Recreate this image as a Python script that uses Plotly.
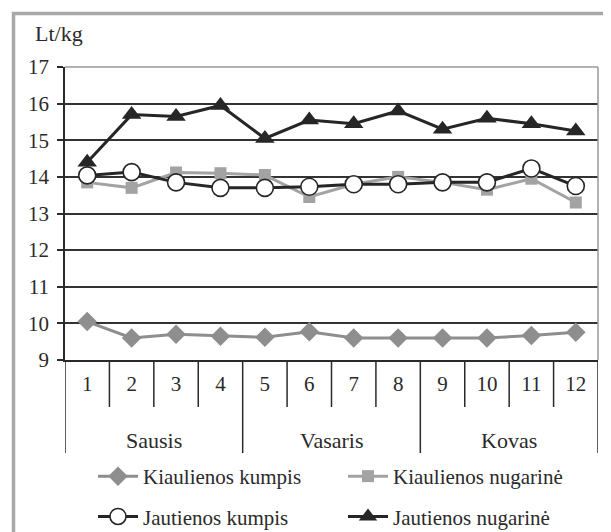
import plotly.graph_objects as go

months = ["Sausis"] * 4 + ["Vasaris"] * 4 + ["Kovas"] * 4
weeks = [str(i) for i in range(1, 13)]

kiaul_kumpis = [10.05, 9.6, 9.7, 9.65, 9.62, 9.77, 9.6, 9.6, 9.6, 9.6, 9.67, 9.76]
kiaul_nugarine = [13.85, 13.7, 14.12, 14.1, 14.05, 13.45, 13.8, 14.0, 13.85, 13.65, 13.95, 13.3]
jaut_kumpis = [14.04, 14.13, 13.85, 13.7, 13.7, 13.73, 13.8, 13.8, 13.85, 13.85, 14.23, 13.75]
jaut_nugarine = [14.4, 15.7, 15.65, 15.95, 15.05, 15.55, 15.45, 15.8, 15.3, 15.6, 15.45, 15.25]

FONT = "Liberation Serif, Times New Roman, serif"
TXT = "#2a2a2a"
OFF = 8  # page body margin
W, H = 611 - OFF, 532 - OFF
ML, MT = 65 - OFF, 67 - OFF
MR = W - (598 - OFF)
MB = H - (360 - OFF)
PW, PH = W - ML - MR, H - MT - MB
BOTTOM = H - MB  # figure y of x-axis


def px_x(X):  # reference screen x -> paper x
    return (X - OFF - ML) / PW


def px_y(Y):  # reference screen y -> paper y
    return (BOTTOM - (Y - OFF)) / PH


xpos = list(range(1, len(weeks) + 1))

# group boundaries (from months list)
groups = []
for i, m in enumerate(months):
    if not groups or groups[-1][0] != m:
        groups.append([m, i, i])
    else:
        groups[-1][2] = i
group_bounds = sorted({xpos[g[1]] - 0.5 for g in groups} | {xpos[g[2]] + 0.5 for g in groups})
inner_bounds = [p + 0.5 for p in xpos[:-1] if (p + 0.5) not in group_bounds]

fig = go.Figure()
fig.add_trace(go.Scatter(x=xpos, y=kiaul_kumpis, name="Kiaulienos kumpis", mode="lines+markers",
                         legend="legend", legendgroup="a",
                         line=dict(color="#8e8e8e", width=3),
                         marker=dict(symbol="diamond", size=15, color="#8e8e8e")))
fig.add_trace(go.Scatter(x=xpos, y=kiaul_nugarine, name="Kiaulienos nugarinė", mode="lines+markers",
                         legend="legend2", legendgroup="b",
                         line=dict(color="#a3a3a3", width=3),
                         marker=dict(symbol="square", size=12, color="#a3a3a3")))
fig.add_trace(go.Scatter(x=xpos, y=jaut_kumpis, name="Jautienos kumpis", mode="lines+markers",
                         legend="legend", legendgroup="c",
                         line=dict(color="#262626", width=3),
                         marker=dict(symbol="circle", size=17, color="white",
                                     line=dict(color="#262626", width=1.6))))
fig.add_trace(go.Scatter(x=xpos, y=jaut_nugarine, name="Jautienos nugarinė", mode="lines+markers",
                         legend="legend2", legendgroup="d",
                         line=dict(color="#262626", width=3),
                         marker=dict(symbol="triangle-up", size=17, color="#262626")))

shapes = []
for b in group_bounds:
    shapes.append(dict(type="line", xref="x", yref="paper", x0=b, x1=b,
                       y0=0, y1=px_y(453), line=dict(color=TXT, width=1.5)))
for b in inner_bounds:
    shapes.append(dict(type="line", xref="x", yref="paper", x0=b, x1=b,
                       y0=0, y1=px_y(407), line=dict(color=TXT, width=1.5)))
shapes.append(dict(type="line", xref="paper", yref="paper", x0=0, x1=1, y0=1, y1=1,
                   line=dict(color="#9a9a9a", width=1.5), layer="above"))
shapes.append(dict(type="line", xref="paper", yref="paper", x0=1, x1=1, y0=0, y1=1,
                   line=dict(color="#9a9a9a", width=1.5), layer="above"))
shapes.append(dict(type="rect", xref="paper", yref="paper",
                   x0=px_x(13.5), x1=1.3, y0=-1.0, y1=px_y(13.5),
                   line=dict(color="#a8a8a8", width=3.5)))

annotations = [dict(text="Lt/kg", xref="paper", yref="paper", x=px_x(59), y=px_y(33),
                    xanchor="center", yanchor="middle", showarrow=False,
                    font=dict(family=FONT, size=22, color=TXT))]
for m, i0, i1 in groups:
    annotations.append(dict(text=m, xref="x", yref="paper", x=(xpos[i0] + xpos[i1]) / 2,
                            y=px_y(440), xanchor="center", yanchor="middle",
                            showarrow=False, font=dict(family=FONT, size=22, color=TXT)))

leg_common = dict(orientation="v", yanchor="top", xanchor="left", tracegroupgap=10,
                  font=dict(family=FONT, size=21, color=TXT), bgcolor="rgba(0,0,0,0)",
                  itemwidth=40)
LEG_TOP = (BOTTOM - 448) / PH

fig.update_layout(
    width=W, height=H,
    margin=dict(l=ML, r=MR, t=MT, b=MB, autoexpand=False),
    paper_bgcolor="white", plot_bgcolor="white",
    font=dict(family=FONT, size=21, color=TXT),
    showlegend=True,
    legend=dict(x=(85 - ML) / PW, y=LEG_TOP, **leg_common),
    legend2=dict(x=(335 - ML) / PW, y=LEG_TOP, **leg_common),
    xaxis=dict(range=[0.5, len(weeks) + 0.5], tickvals=xpos, ticktext=weeks,
               showgrid=False, showline=True, linecolor=TXT, linewidth=1.5,
               ticks="", ticklabelstandoff=4, zeroline=False, automargin=False,
               tickfont=dict(family=FONT, size=21, color=TXT)),
    yaxis=dict(range=[9, 17], dtick=1, showgrid=True, gridcolor="#333333", gridwidth=1.6,
               showline=True, linecolor=TXT, linewidth=1.5, ticklabelstandoff=4,
               ticks="outside", ticklen=6, tickwidth=1.5, tickcolor=TXT, zeroline=False,
               automargin=False, tickfont=dict(family=FONT, size=21, color=TXT)),
    shapes=shapes,
    annotations=annotations,
)

fig.write_html("out.html")
